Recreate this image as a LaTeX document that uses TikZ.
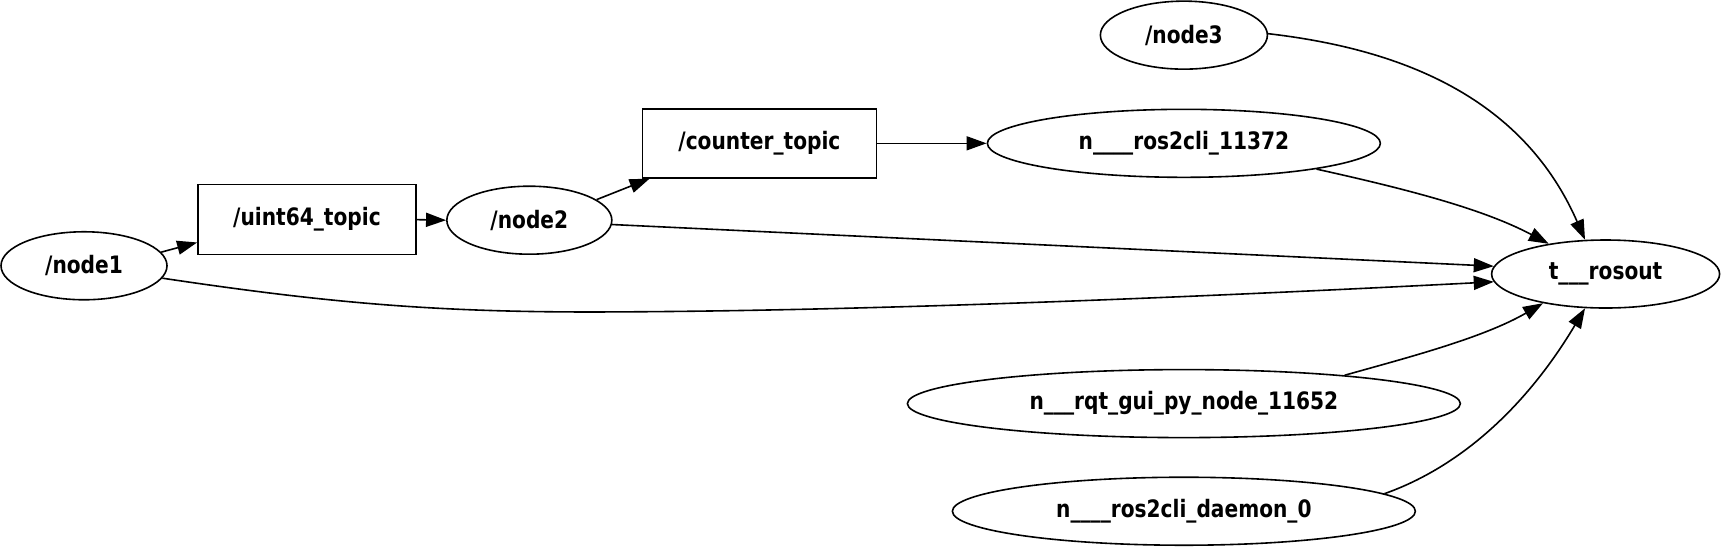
\documentclass[tikz,border=0pt]{standalone}
\usepackage{fontspec}
\setmainfont{DejaVu Sans}[FakeStretch=0.84]
\usetikzlibrary{arrows.meta,shapes.geometric}
\tikzset{
  base/.style={draw=black, line width=1.6pt, inner sep=0pt, font=\bfseries\fontsize{24}{28}\selectfont},
  rosnode/.style={base, ellipse, minimum height=68pt},
  topicbox/.style={base, rectangle, minimum height=70pt},
  edge/.style={line width=1.6pt, -{Triangle[length=20pt,width=14pt]}},
}
\begin{document}
\begin{tikzpicture}[x=1.0982pt, y=-1.0982pt]
\useasboundingbox (0,0) rectangle (1568,499);
\node[rosnode, minimum width=166pt] (node1) at (76.5,242) {/node1};
\node[topicbox, minimum width=218pt] (uint) at (279.5,200) {/uint64\_topic};
\node[rosnode, minimum width=165pt] (node2) at (482,200.5) {/node2};
\node[topicbox, minimum width=234pt, minimum height=69pt] (counter) at (691.5,130.5) {/counter\_topic};
\node[rosnode, minimum width=393pt] (cli) at (1078,130.5) {n\_\_\_\_ros2cli\_11372};
\node[rosnode, minimum width=167pt] (node3) at (1078,32) {/node3};
\node[rosnode, minimum width=228pt] (rosout) at (1462,249.5) {t\_\_\_rosout};
\node[rosnode, minimum width=553pt] (rqt) at (1078,367.5) {n\_\_\_rqt\_gui\_py\_node\_11652};
\node[rosnode, minimum width=463pt] (daemon) at (1078,465.5) {n\_\_\_\_ros2cli\_daemon\_0};

\draw[edge] (node1.10.5) -- ([yshift=13pt]uint.south west);
\draw[edge] (uint.east) -- (node2.west);
\draw[edge] (node2.17.8) -- ([xshift=8pt]counter.south west);
\draw[edge] (counter.east) -- (cli.west);
\draw[edge] (node2.-3) -- (rosout.176);
\draw[edge] (node1.-9.5) .. controls (300,276) and (400,285) .. (560,284)
  .. controls (800,283) and (1100,270) .. (rosout.184);
\draw[edge] (node3.1) .. controls (1270,44) and (1385,85) .. (rosout.121);
\draw[edge] (cli.-11.4) .. controls (1280,172) and (1350,190) .. (rosout.152.6);
\draw[edge] (rqt.10.8) .. controls (1280,326) and (1350,308) .. (rosout.205.7);
\draw[edge] (daemon.5.7) .. controls (1330,425) and (1390,370) .. (rosout.239);
\end{tikzpicture}
\end{document}
